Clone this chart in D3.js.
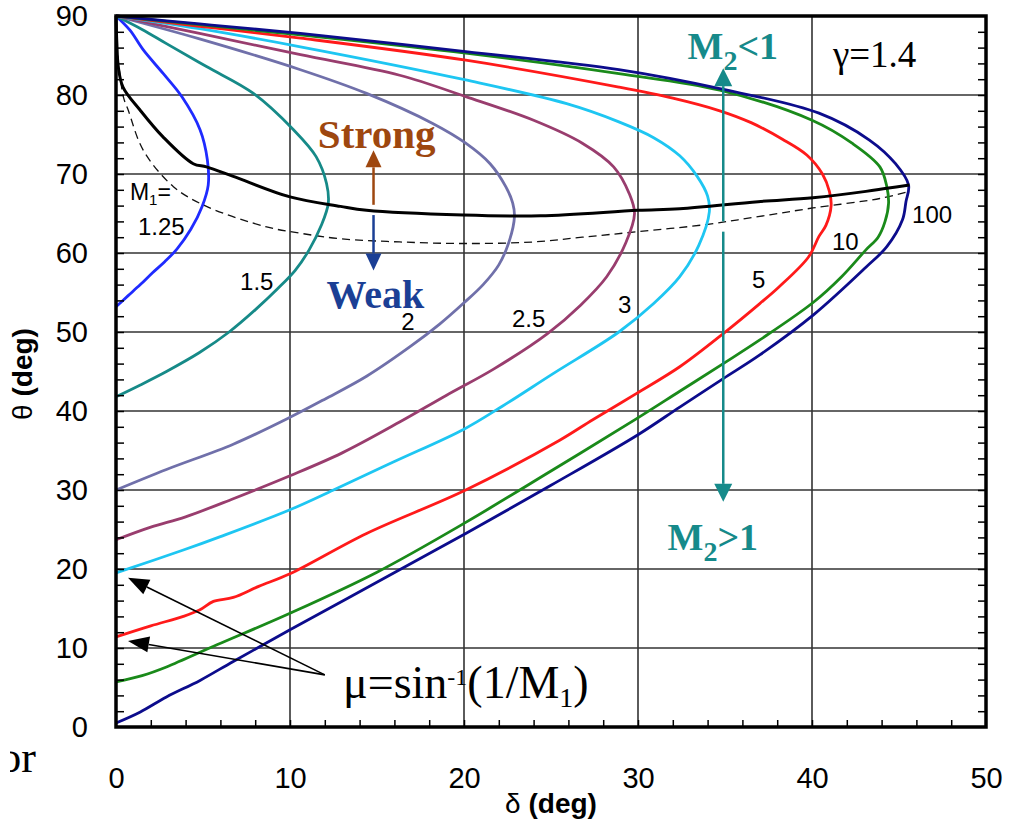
<!DOCTYPE html>
<html>
<head>
<meta charset="utf-8">
<script src="https://cdn.jsdelivr.net/npm/d3@7/dist/d3.min.js"></script>
<style>
  html, body { margin: 0; padding: 0; background: #fff; }
  svg { display: block; }
</style>
</head>
<body>
<svg id="chart" width="1009" height="828"></svg>
<script>
// ---------------- DATA ----------------
// each point: [delta (deg), theta (deg)]
const machLabels = ["1.25", "1.5", "2", "2.5", "3", "5", "10", "100"];
const machColors = ["#1f2bff", "#168a88", "#7070aa", "#993d6e", "#1ec6f2", "#ff1a1a", "#1a8a1a", "#0c0c8c"];

const curveM125 = [[0,90],[0.8,88.2],[1.57,85.7],[2.72,82.7],[3.78,79.8],[4.83,75.6],[5.25,71.8],[5.3,68.6],[4.95,65.9],[4.3,63.0],[3.5,60.5],[2.8,58.9],[2.1,57.5],[1.4,56.0],[0.7,54.6],[0,53.2]];
const curveM15 = [[0,90],[1.5,88.3],[2.9,86.5],[5.2,83.6],[7.9,80.2],[10.2,75.6],[11.5,72.2],[12.1,68.8],[12.2,66.3],[11.8,63.5],[11.1,60.4],[10.3,57.8],[9.3,55.5],[8.0,52.8],[6.5,50.0],[4.8,47.4],[2.9,45.0],[1.4,43.3],[0,41.8]];
const curveM2 = [[0,90],[4.8,87.1],[10.6,83.2],[14.4,80.2],[18.2,76.4],[20.1,73.9],[21.5,71.3],[22.4,68.4],[22.8,66.3],[22.9,64.6],[22.6,61.5],[22.0,58.5],[21.1,56.0],[20.0,53.7],[18.6,51.0],[17.0,48.3],[14.4,44.4],[12.0,41.5],[10.0,39.2],[6.74,35.8],[2.9,32.6],[0,30.0]];
const curveM25 = [[0,90],[4.8,87.8],[10.6,85.1],[16.3,82.5],[20.1,79.8],[24.0,76.8],[26.8,73.9],[28.6,70.9],[29.5,67.5],[29.8,65.0],[29.3,61.3],[28.2,57.0],[26.7,53.4],[24.8,49.8],[21.7,45.3],[19.0,42.0],[16.3,38.6],[13.0,34.7],[10.0,31.8],[6.74,28.9],[4.0,26.6],[2.0,25.3],[0,23.7]];
const curveM3 = [[0,90],[4.8,88.4],[10.6,86.1],[20.1,81.9],[25.9,78.9],[28.9,76.6],[30.9,74.6],[32.4,72.3],[33.4,69.7],[34.0,67.2],[34.1,65.2],[33.5,61.0],[32.4,57.0],[30.9,53.6],[28.9,50.0],[25.1,44.7],[22.2,40.6],[20.0,37.7],[16.0,33.6],[12.5,30.0],[10.0,27.5],[6.0,24.1],[3.87,22.4],[0,19.5]];
const curveM5 = [[0,90],[4.8,88.7],[10.6,87.2],[20.1,84.4],[28.9,81.0],[32.0,79.6],[34.7,78.0],[36.5,76.5],[38.3,74.4],[39.7,72.4],[40.6,70.0],[41.0,67.8],[41.1,66.0],[40.8,63.5],[40.4,62.1],[39.8,59.5],[38.1,55.7],[37.0,53.6],[34.9,49.8],[32.4,45.6],[29.9,42.2],[27.4,38.9],[25.5,36.3],[20.1,30.0],[14.4,24.5],[10.0,19.4],[8.2,17.8],[6.74,16.4],[5.6,15.9],[4.8,14.8],[3.87,14.0],[2.0,12.8],[0,11.4]];
const curveM10 = [[0,90],[4.8,88.9],[10.6,87.6],[20.1,85.3],[28.9,82.7],[34.7,80.6],[40.0,76.8],[42.3,73.9],[43.9,70.9],[44.3,68.4],[44.4,66.3],[44.2,64.0],[43.8,62.0],[43.1,60.4],[41.7,57.0],[40.1,53.8],[37.0,49.0],[34.9,46.0],[32.4,42.5],[29.9,39.0],[25.0,32.4],[20.1,25.9],[15.0,19.6],[10.0,14.4],[5.8,10.4],[2.9,7.6],[1.5,6.5],[0,5.7]];
const curveM100 = [[0,90],[4.8,89.0],[10.6,87.8],[20.1,85.5],[28.9,83.2],[34.7,80.8],[40.4,77.7],[43.3,74.3],[44.8,71.3],[45.55,68.6],[45.4,66.5],[45.2,64.2],[44.3,60.8],[43.1,58.2],[40.1,52.2],[37.0,47.1],[34.9,44.1],[32.4,40.5],[30.0,37.0],[25.0,30.6],[20.1,24.5],[16.3,19.9],[10.0,12.3],[6.74,8.3],[4.83,5.9],[2.9,3.8],[1.4,1.9],[0,0.5]];
const machCurves = [curveM125, curveM15, curveM2, curveM25, curveM3, curveM5, curveM10, curveM100];

// solid black line and dashed line
const maxDeflectionLine = [[0,90],[0.05,86.5],[0.13,83.6],[0.4,81.0],[1.38,78.1],[2.7,74.7],[4.44,71.3],[5.2,70.9],[6.74,69.7],[10,67.1],[12.9,65.9],[14.4,65.4],[19.95,64.8],[24.4,64.7],[30.0,65.4],[32.4,65.6],[36.9,66.5],[40.05,67.0],[43.1,67.8],[44.3,68.2],[45.6,68.6]];
const sonicLine = [[0.1,85.0],[0.42,79.8],[0.7,78.1],[1.57,73.0],[3.3,68.4],[5.2,65.9],[8.66,63.3],[10.6,62.5],[12.9,61.8],[16.3,61.4],[20.1,61.2],[24.0,61.4],[26.8,62.0],[30.0,62.7],[33.9,63.6],[36.9,64.6],[40.05,65.7],[43.9,66.9],[45.6,67.8]];

// axis ticks
const xTickLabels = [0, 10, 20, 30, 40, 50];
const yTickLabels = [0, 10, 20, 30, 40, 50, 60, 70, 80, 90];
const xMinorTicks = d3.range(2, 50, 2);
const yMinorTicks = d3.range(2, 90, 2);

// curve label positions (delta, theta)
const curveLabelPos = [[1.26, 62.3], [7.13, 55.3], [16.4, 50.2], [22.76, 50.6], [28.85, 52.4], [36.55, 55.6], [41.15, 60.4], [45.75, 63.8]];

// ---------------- LAYOUT ----------------
const svg = d3.select("#chart");
const x = d3.scaleLinear().domain([0, 50]).range([116, 986]);
const y = d3.scaleLinear().domain([0, 90]).range([727, 16]);
const SANS = "'Liberation Sans', Arial, sans-serif";
const SERIF = "'Liberation Serif', 'Times New Roman', serif";

svg.append("rect").attr("width", 1009).attr("height", 828).attr("fill", "#fff");

// gridlines
const grid = svg.append("g");
grid.selectAll("line.gx").data([10, 20, 30, 40]).join("line")
  .attr("x1", d => x(d)).attr("x2", d => x(d)).attr("y1", y(0)).attr("y2", y(90))
  .attr("stroke", "#333").attr("stroke-width", 1.6);
grid.selectAll("line.gy").data([10, 20, 30, 40, 50, 60, 70, 80]).join("line")
  .attr("y1", d => y(d)).attr("y2", d => y(d)).attr("x1", x(0)).attr("x2", x(50))
  .attr("stroke", "#333").attr("stroke-width", 1.6);

// curves
const line = d3.line().x(d => x(d[0])).y(d => y(d[1])).curve(d3.curveCatmullRom.alpha(0.5));

svg.append("path").datum(sonicLine).attr("d", line)
  .attr("fill", "none").attr("stroke", "#111").attr("stroke-width", 1.3).attr("stroke-dasharray", "8,5");

machCurves.forEach((c, i) => {
  svg.append("path").datum(c).attr("d", line)
    .attr("fill", "none").attr("stroke", machColors[i]).attr("stroke-width", 2.8)
    .attr("stroke-linejoin", "round");
});

svg.append("path").datum(maxDeflectionLine).attr("d", line)
  .attr("fill", "none").attr("stroke", "#000").attr("stroke-width", 3).attr("stroke-linejoin", "round");

// frame
svg.append("rect").attr("x", x(0)).attr("y", y(90)).attr("width", x(50) - x(0)).attr("height", y(0) - y(90))
  .attr("fill", "none").attr("stroke", "#000").attr("stroke-width", 3.5);

// minor ticks (inward)
function cleanAxis(g) { g.select(".domain").remove(); g.selectAll("line").attr("stroke", "#000").attr("stroke-width", 1.5); }
svg.append("g").attr("transform", `translate(0,${y(0)})`)
  .call(d3.axisBottom(x).tickValues(xMinorTicks).tickSize(-7).tickFormat("")).call(cleanAxis);
svg.append("g").attr("transform", `translate(${x(0)},0)`)
  .call(d3.axisLeft(y).tickValues(yMinorTicks).tickSize(-8).tickFormat("")).call(cleanAxis);
svg.append("g").attr("transform", `translate(${x(50)},0)`)
  .call(d3.axisRight(y).tickValues(yMinorTicks).tickSize(-8).tickFormat("")).call(cleanAxis);

// tick labels
const xl = svg.append("g").attr("transform", `translate(0,${y(0)})`)
  .call(d3.axisBottom(x).tickValues(xTickLabels).tickSize(0).tickPadding(40));
xl.select(".domain").remove();
xl.selectAll("text").attr("font-family", SANS).attr("font-size", 29).attr("fill", "#000");
const yl = svg.append("g").attr("transform", `translate(${x(0)},0)`)
  .call(d3.axisLeft(y).tickValues(yTickLabels).tickSize(0).tickPadding(28));
yl.select(".domain").remove();
yl.selectAll("text").attr("font-family", SANS).attr("font-size", 29).attr("fill", "#000");

// axis titles
const xt = svg.append("text").attr("x", 551).attr("y", 813).attr("text-anchor", "middle")
  .attr("font-family", SANS).attr("font-size", 28).attr("fill", "#000");
xt.append("tspan").text("δ ");
xt.append("tspan").attr("font-weight", "bold").text("(deg)");
const yt = svg.append("text").attr("transform", "translate(32,374) rotate(-90)").attr("text-anchor", "middle")
  .attr("font-family", SANS).attr("font-size", 28).attr("fill", "#000");
yt.append("tspan").text("θ ");
yt.append("tspan").attr("font-weight", "bold").text("(deg)");

// cropped "or" at bottom-left
svg.append("clipPath").attr("id", "orclip").append("rect").attr("x", 10).attr("y", 700).attr("width", 100).attr("height", 128);
svg.append("text").attr("x", 36).attr("y", 772).attr("text-anchor", "end").attr("clip-path", "url(#orclip)")
  .attr("font-family", SERIF).attr("font-size", 44).attr("fill", "#000").text("or");

// curve labels
svg.append("text").attr("x", x(0.8)).attr("y", y(66.7)).attr("font-family", SANS).attr("font-size", 23)
  .attr("fill", "#000").html("M<tspan font-size='15' dy='5'>1</tspan><tspan dy='-5'>=</tspan>");
machLabels.forEach((lab, i) => {
  svg.append("text").attr("x", x(curveLabelPos[i][0])).attr("y", y(curveLabelPos[i][1]))
    .attr("font-family", SANS).attr("font-size", 24).attr("fill", "#000").text(lab);
});

// arrows
function arrow(d1, t1, d2, t2, color, headLen, headHalf, lw) {
  const x1 = x(d1), y1 = y(t1), x2 = x(d2), y2 = y(t2);
  const ang = Math.atan2(y2 - y1, x2 - x1);
  const bx = x2 - headLen * Math.cos(ang), by = y2 - headLen * Math.sin(ang);
  svg.append("line").attr("x1", x1).attr("y1", y1).attr("x2", bx).attr("y2", by)
    .attr("stroke", color).attr("stroke-width", lw);
  const px = -Math.sin(ang) * headHalf, py = Math.cos(ang) * headHalf;
  svg.append("path").attr("d", `M${x2},${y2}L${bx + px},${by + py}L${bx - px},${by - py}Z`).attr("fill", color);
}
const BROWN = "#9e470f", WBLUE = "#1b3f95", TEAL = "#168a8a";
arrow(14.8, 66.1, 14.8, 73.0, BROWN, 17, 8, 2.5);
arrow(14.8, 64.8, 14.8, 57.8, WBLUE, 17, 8, 2.5);
arrow(34.9, 64.0, 34.9, 83.4, TEAL, 18, 9, 2.5);
arrow(34.9, 62.7, 34.9, 28.5, TEAL, 18, 9, 2.5);
arrow(12.0, 6.6, 0.69, 18.9, "#000", 21, 8, 1.6);
arrow(12.0, 6.6, 0.69, 10.9, "#000", 21, 8, 1.6);

// annotation texts
svg.append("text").attr("x", x(11.6)).attr("y", y(73.3)).attr("font-family", SERIF).attr("font-weight", "bold")
  .attr("font-size", 41).attr("fill", BROWN).text("Strong");
svg.append("text").attr("x", x(12.1)).attr("y", y(53.1)).attr("font-family", SERIF).attr("font-weight", "bold")
  .attr("font-size", 40).attr("fill", WBLUE).text("Weak");
svg.append("text").attr("x", x(32.85)).attr("y", y(84.5)).attr("font-family", SERIF).attr("font-weight", "bold")
  .attr("font-size", 38).attr("fill", TEAL)
  .html("M<tspan font-size='28' dy='11'>2</tspan><tspan dy='-11'>&lt;1</tspan>");
svg.append("text").attr("x", x(31.7)).attr("y", y(22.4)).attr("font-family", SERIF).attr("font-weight", "bold")
  .attr("font-size", 38).attr("fill", TEAL)
  .html("M<tspan font-size='28' dy='11'>2</tspan><tspan dy='-11'>&gt;1</tspan>");
svg.append("text").attr("x", x(41.2)).attr("y", y(83.5)).attr("font-family", SERIF)
  .attr("font-size", 37).attr("fill", "#000").text("γ=1.4");
svg.append("text").attr("x", x(13.05)).attr("y", y(3.67)).attr("font-family", SERIF)
  .attr("font-size", 46).attr("fill", "#000")
  .html("μ=sin<tspan font-size='24' dy='-13'>-1</tspan><tspan dy='13'>(1/M</tspan><tspan font-size='28' dy='9'>1</tspan><tspan dy='-9'>)</tspan>");
</script>
</body>
</html>
